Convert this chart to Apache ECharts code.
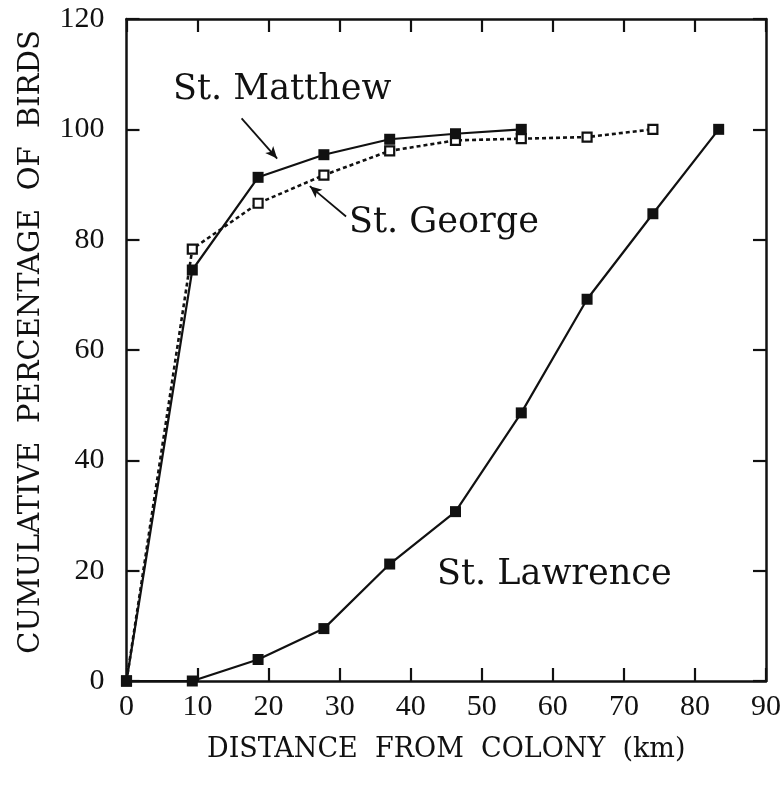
<!DOCTYPE html>
<html>
<head>
<meta charset="utf-8">
<script src="https://cdn.jsdelivr.net/npm/echarts@6/dist/echarts.min.js"></script>
<style>
html,body{margin:0;padding:0;background:#fff;}
#chart{width:784px;height:787px;}
</style>
</head>
<body>
<div id="chart"></div>
<script>
// Distances (km) sampled every 5 nautical miles
const distStMatthew = [0, 9.26, 18.52, 27.78, 37.04, 46.3, 55.56];
const pctStMatthew  = [0, 74.5, 91.3, 95.4, 98.2, 99.2, 100];

const distStGeorge = [0, 9.26, 18.52, 27.78, 37.04, 46.3, 55.56, 64.82, 74.08];
const pctStGeorge  = [0, 78.3, 86.6, 91.7, 96.1, 98.0, 98.3, 98.6, 100];

const distStLawrence = [0, 9.26, 18.52, 27.78, 37.04, 46.3, 55.56, 64.82, 74.08, 83.34];
const pctStLawrence  = [0, 0, 3.9, 9.5, 21.2, 30.7, 48.6, 69.2, 84.7, 100];

const xTicks = [0, 10, 20, 30, 40, 50, 60, 70, 80, 90];
const yTicks = [0, 20, 40, 60, 80, 100, 120];

const seriesNames = ['St. Matthew', 'St. George', 'St. Lawrence'];
const xTitle = 'DISTANCE  FROM  COLONY  (km)';
const yTitle = 'CUMULATIVE  PERCENTAGE  OF  BIRDS';

// annotation arrows (data coordinates): [tailX, tailY, headX, headY]
const arrowStMatthew = [16.2, 102, 21.2, 94.7];
const arrowStGeorge  = [30.9, 84.2, 25.8, 89.7];

function pairs(xs, ys){ return xs.map((x,i)=>[x, ys[i]]); }

const INK = '#111';
const tickFont = 'Liberation Serif';
const labelFont = 'DejaVu Serif';

const chart = echarts.init(document.getElementById('chart'), null, {renderer:'canvas'});

const axisCommon = {
  type:'value',
  axisLine:{show:true, onZero:false, lineStyle:{color:INK, width:2.5}},
  axisTick:{show:true, inside:true, length:13, lineStyle:{color:INK, width:2.2}},
  splitLine:{show:false}
};

function arrowLine(a){
  return {
    silent:true,
    symbol:['none','arrow'],
    symbolSize:[8,12],
    label:{show:false},
    lineStyle:{color:INK, width:1.8, type:'solid'},
    data:[[{coord:[a[0],a[1]]},{coord:[a[2],a[3]]}]]
  };
}

chart.setOption({
  animation:false,
  backgroundColor:'#fff',
  grid:{left:126.5, right:15, top:19, bottom:106},
  xAxis:[
    Object.assign({}, axisCommon, {
      min:xTicks[0], max:xTicks[xTicks.length-1], interval:10, position:'bottom',
      axisLabel:{show:true, margin:11, color:INK, fontFamily:tickFont, fontSize:30},
      name:xTitle, nameLocation:'middle', nameGap:55,
      nameTextStyle:{fontFamily:labelFont, fontSize:27, color:INK}
    }),
    Object.assign({}, axisCommon, {
      min:xTicks[0], max:xTicks[xTicks.length-1], interval:10, position:'top',
      axisLabel:{show:false}
    })
  ],
  yAxis:[
    Object.assign({}, axisCommon, {
      min:yTicks[0], max:yTicks[yTicks.length-1], interval:20, position:'left',
      axisLabel:{show:true, margin:22, color:INK, fontFamily:tickFont, fontSize:30}
    }),
    Object.assign({}, axisCommon, {
      min:yTicks[0], max:yTicks[yTicks.length-1], interval:20, position:'right',
      axisLabel:{show:false}
    })
  ],
  series:[
    {
      name:seriesNames[1], type:'line', data:pairs(distStGeorge, pctStGeorge),
      symbol:'rect', symbolSize:9, showSymbol:true,
      lineStyle:{color:INK, width:2.6, type:[4,3]},
      itemStyle:{color:'#fff', borderColor:INK, borderWidth:2.2},
      z:2, markLine:arrowLine(arrowStGeorge)
    },
    {
      name:seriesNames[0], type:'line', data:pairs(distStMatthew, pctStMatthew),
      symbol:'rect', symbolSize:11, showSymbol:true,
      lineStyle:{color:INK, width:2.2},
      itemStyle:{color:INK},
      z:3, markLine:arrowLine(arrowStMatthew)
    },
    {
      name:seriesNames[2], type:'line', data:pairs(distStLawrence, pctStLawrence),
      symbol:'rect', symbolSize:11, showSymbol:true,
      lineStyle:{color:INK, width:2.2},
      itemStyle:{color:INK},
      z:3
    }
  ],
  graphic:[
    {type:'text', x:31, y:342, rotation:Math.PI/2,
     style:{text:yTitle, font:'29px "DejaVu Serif"', fill:INK, align:'center', verticalAlign:'middle', textAlign:'center', textVerticalAlign:'middle'}},
    {type:'text', x:173, y:107,
     style:{text:seriesNames[0], font:'35px "DejaVu Serif"', fill:INK, align:'left', verticalAlign:'alphabetic', textAlign:'left', textVerticalAlign:'bottom'}},
    {type:'text', x:349, y:240,
     style:{text:seriesNames[1], font:'35px "DejaVu Serif"', fill:INK, align:'left', verticalAlign:'alphabetic', textAlign:'left', textVerticalAlign:'bottom'}},
    {type:'text', x:437, y:592,
     style:{text:seriesNames[2], font:'35px "DejaVu Serif"', fill:INK, align:'left', verticalAlign:'alphabetic', textAlign:'left', textVerticalAlign:'bottom'}}
  ]
});
</script>
</body>
</html>
